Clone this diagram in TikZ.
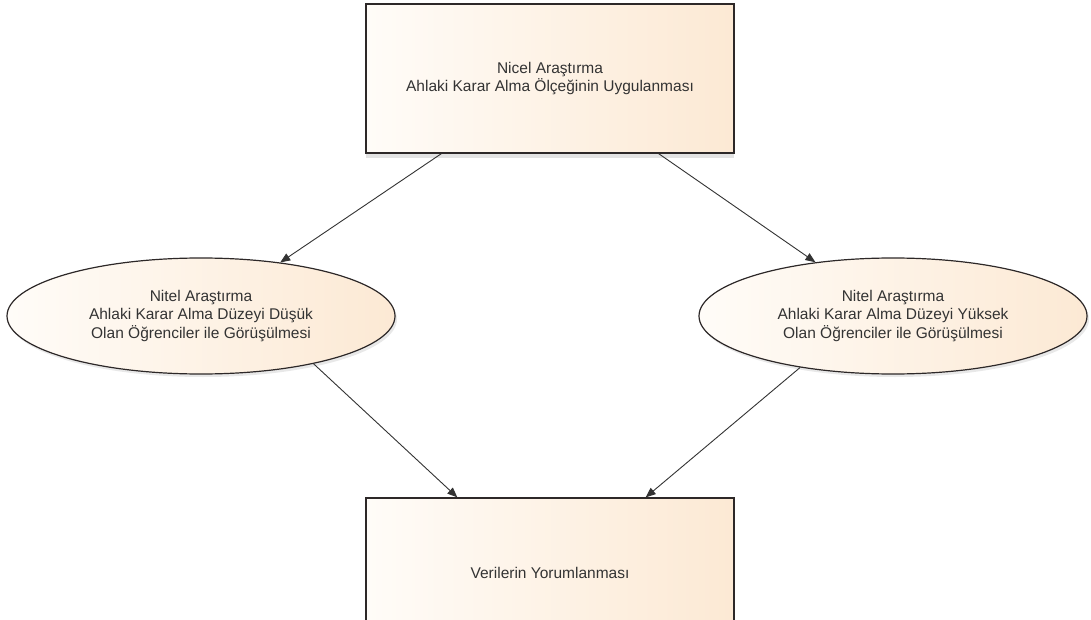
\documentclass[tikz,border=0pt]{standalone}
\usepackage{fontspec}
\setmainfont{Liberation Sans}
\usepackage{tikz}
\usetikzlibrary{positioning}
\usetikzlibrary{shapes,shadows}
\usetikzlibrary{arrows.meta}
\usepackage{xcolor}
\definecolor{cream}{RGB}{255,252,248}
\definecolor{peach}{RGB}{252,233,212}
\definecolor{edge}{RGB}{45,40,40}

\begin{document}
\begin{tikzpicture}
[x=1pt, y=-1pt,
every node/.style={font=\fontsize{15.5}{18.5}\selectfont, text=black!80},
% The stage style is used to draw the rectangular steps
stage/.style={rectangle, draw=edge, line width=1.3pt, left color=cream, right color=peach, minimum width=368pt, minimum height=149pt, align=center, drop shadow={shadow xshift=0pt, shadow yshift=-5pt, opacity=0.22, fill=gray}},
% The interview style is used to draw the two qualitative steps
interview/.style={ellipse, draw=edge, line width=1.2pt, left color=cream, right color=peach, minimum width=388pt, minimum height=116pt, inner sep=0pt, align=center, drop shadow={shadow xshift=2pt, shadow yshift=-3pt, opacity=0.18, fill=gray}},
% The flow style is used to draw the arrows
flow/.style={draw=black!80, line width=0.9pt, -{Triangle[length=10pt,width=8pt]}}
]
\useasboundingbox (0,0) rectangle (1091,620);
\clip (0,0) rectangle (1091,620);
\fill[white] (0,0) rectangle (1091,620);
% Draw steps
\node[stage] (nicel) at (550,78.5) {Nicel Araştırma\\Ahlaki Karar Alma Ölçeğinin Uygulanması};
\node[interview] (dusuk) at (201,316) {Nitel Araştırma\\Ahlaki Karar Alma Düzeyi Düşük\\Olan Öğrenciler ile Görüşülmesi};
\node[interview] (yuksek) at (893,316) {Nitel Araştırma\\Ahlaki Karar Alma Düzeyi Yüksek\\Olan Öğrenciler ile Görüşülmesi};
\node[stage, minimum height=150pt] (yorum) at (550,573) {Verilerin Yorumlanması};
% Draw arrows
\draw[flow] ([xshift=76pt]nicel.south west) -- (dusuk);
\draw[flow] ([xshift=-76pt]nicel.south east) -- (yuksek);
\draw[flow] (dusuk.-23) -- ([xshift=92pt]yorum.north west);
\draw[flow] (yuksek.-151) -- ([xshift=-89pt]yorum.north east);
\end{tikzpicture}
\end{document}
